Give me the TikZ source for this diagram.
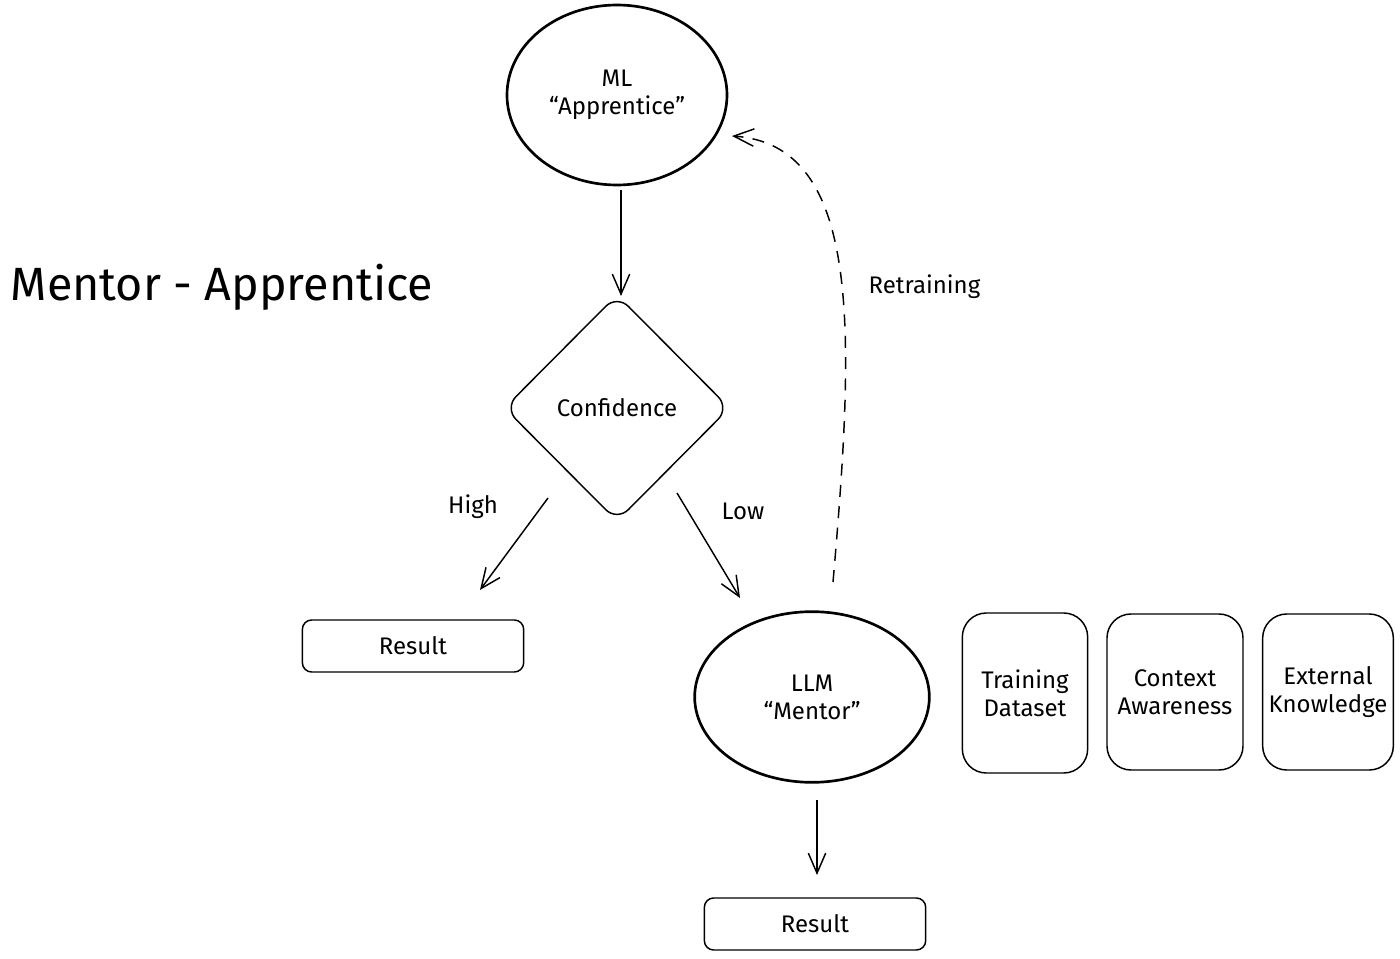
\documentclass[tikz,border=0pt]{standalone}
\usepackage{fontspec}
\setmainfont{Fira Sans}
\usetikzlibrary{shapes.geometric,arrows.meta}
\begin{document}
\begin{tikzpicture}[x=0.75pt,y=-0.75pt,
  thickline/.style={line width=2pt},
  thinline/.style={line width=1.1pt},
  lbl/.style={font=\fontsize{18}{21}\selectfont, align=center},
  arr/.style={thinline, -{Straight Barb[length=15pt,width=13pt,line width=1.1pt]}},
  oval/.style={draw, thickline, ellipse, inner sep=0pt, lbl},
  resbox/.style={draw, thinline, rounded corners=7pt, minimum width=166pt, minimum height=39pt, inner sep=0pt, lbl},
  knowbox/.style={draw, thinline, rounded corners=18pt, inner sep=0pt, lbl}
]
\useasboundingbox (0,0) rectangle (1400,959);
\fill[white] (0,0) rectangle (1400,959);

\node[anchor=west, font=\fontsize{35}{40}\selectfont] (title) at (6,287) {Mentor - Apprentice};

\node[oval, minimum width=165pt, minimum height=135pt] (ml) at (617,95) {ML\\``Apprentice''};
\node[draw, thinline, diamond, minimum width=169pt, minimum height=170pt, inner sep=0pt, rounded corners=12pt, lbl] (conf) at (617,408) {Confidence};
\node[resbox] (res1) at (413,646) {Result};
\node[oval, minimum width=176pt, minimum height=128pt] (llm) at (812,697) {LLM\\``Mentor''};
\node[resbox] (res2) at (815,924) {Result};

\node[knowbox, minimum width=94pt, minimum height=120pt] (train) at (1025,693) {Training\\Dataset};
\node[knowbox, minimum width=102pt, minimum height=117pt] (ctx) at (1175,692) {Context\\Awareness};
\node[knowbox, minimum width=98pt, minimum height=117pt] (ext) at (1328,692) {External\\Knowledge};

\coordinate (mlout) at (621,190);
\coordinate (confin) at (621,296);
\draw[arr] (mlout) -- (confin);

\coordinate (hs) at (548,498);
\coordinate (he) at (480,590);
\draw[arr] (hs) -- (he);
\node[lbl] (high) at (473,507) {High};

\coordinate (ls) at (677,493);
\coordinate (le) at (740,598);
\draw[arr] (ls) -- (le);
\node[lbl] (low) at (743,511) {Low};

\coordinate (ds) at (833,582);
\coordinate (de) at (732,136);
\draw[arr, dashed, dash pattern=on 9pt off 7pt] (ds) .. controls (855,330) and (862,145) .. (de);
\node[lbl, anchor=west] (retr) at (864,287) {Retraining};

\coordinate (los) at (817,800);
\coordinate (loe) at (817,875);
\draw[arr] (los) -- (loe);
\end{tikzpicture}
\end{document}
